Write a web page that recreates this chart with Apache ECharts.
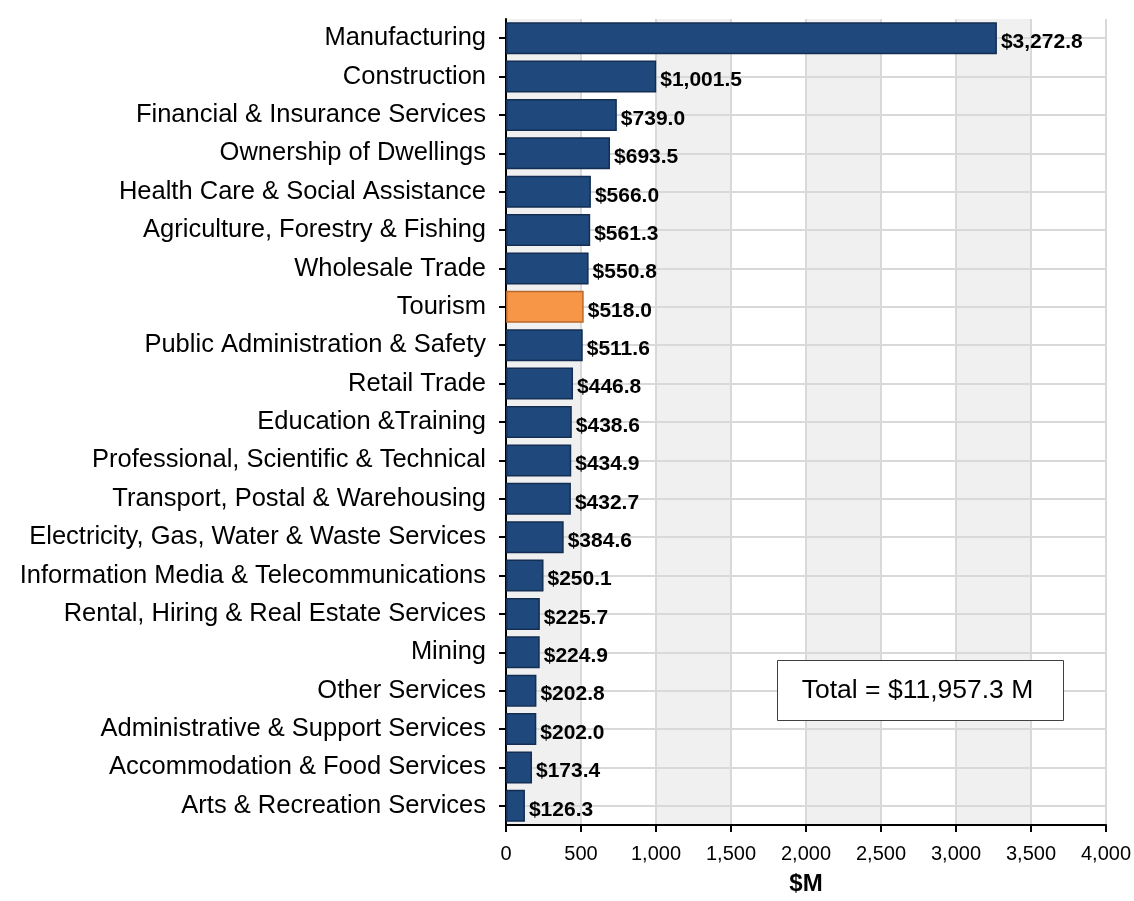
<!DOCTYPE html>
<html>
<head>
<meta charset="utf-8">
<title>Industry output</title>
<script src="https://cdn.jsdelivr.net/npm/echarts@6/dist/echarts.min.js"></script>
<style>
  html, body { margin: 0; padding: 0; background: #fff; }
  #chart { width: 1134px; height: 901px; }
</style>
</head>
<body>
<div id="chart"></div>
<script>
// 行业名称（从上到下）
var categories = [
  'Manufacturing',
  'Construction',
  'Financial & Insurance Services',
  'Ownership of Dwellings',
  'Health Care & Social Assistance',
  'Agriculture, Forestry & Fishing',
  'Wholesale Trade',
  'Tourism',
  'Public Administration & Safety',
  'Retail Trade',
  'Education &Training',
  'Professional, Scientific & Technical',
  'Transport, Postal & Warehousing',
  'Electricity, Gas, Water & Waste Services',
  'Information Media & Telecommunications',
  'Rental, Hiring & Real Estate Services',
  'Mining',
  'Other Services',
  'Administrative & Support Services',
  'Accommodation & Food Services',
  'Arts & Recreation Services'
];
// 数值 $M
var values = [
  3272.8, 1001.5, 739.0, 693.5, 566.0, 561.3, 550.8, 518.0, 511.6, 446.8, 438.6,
  434.9, 432.7, 384.6, 250.1, 225.7, 224.9, 202.8, 202.0, 173.4, 126.3
];
var xTicks = [0, 500, 1000, 1500, 2000, 2500, 3000, 3500, 4000];
var highlight = 'Tourism';
var totalText = 'Total = $11,957.3 M';

var font = "'Liberation Sans', Arial, sans-serif";

function money(v) {
  return '$' + Number(v).toLocaleString('en-US', { minimumFractionDigits: 1, maximumFractionDigits: 1 });
}

var barData = values.map(function (v, i) {
  var isHi = categories[i] === highlight;
  return {
    value: v,
    itemStyle: {
      color: isHi ? '#f79646' : '#1f497d',
      borderColor: isHi ? '#b86a2c' : '#132e52',
      borderWidth: 1.5
    }
  };
});

var myChart = echarts.init(document.getElementById('chart'));
myChart.setOption({
  animation: false,
  textStyle: { fontFamily: font },
  grid: {
    left: 506,
    right: 26,
    top: 19,
    bottom: 68,
    containLabel: false
  },
  xAxis: {
    type: 'value',
    z: 0,
    min: xTicks[0],
    max: xTicks[xTicks.length - 1],
    interval: 500,
    name: '$M',
    nameLocation: 'middle',
    nameGap: 47,
    nameTextStyle: { color: '#000', fontSize: 24, fontWeight: 'bold', fontFamily: font },
    axisLine: { show: true, lineStyle: { color: '#000', width: 2 } },
    axisTick: { show: true, length: 7, lineStyle: { color: '#000', width: 2 } },
    axisLabel: {
      color: '#000',
      fontSize: 20,
      margin: 19,
      fontFamily: font,
      formatter: function (v) { return Number(v).toLocaleString('en-US'); }
    },
    splitLine: { show: true, lineStyle: { color: '#d9d9d9', width: 2 } },
    splitArea: { show: true, areaStyle: { color: ['#f0f0f0', '#ffffff'] } }
  },
  yAxis: {
    type: 'category',
    z: 1,
    inverse: true,
    data: categories,
    axisLine: { show: true, lineStyle: { color: '#000', width: 2 } },
    axisTick: { show: true, alignWithLabel: true, length: 7, lineStyle: { color: '#000', width: 2 } },
    axisLabel: { color: '#000', fontSize: 25.5, margin: 20, fontFamily: font },
    splitLine: { show: true, alignWithLabel: true, lineStyle: { color: '#d9d9d9', width: 2 } }
  },
  series: [{
    type: 'bar',
    z: 3,
    data: barData,
    barWidth: 32,
    label: {
      show: true,
      position: 'right',
      distance: 4,
      offset: [0, 4],
      color: '#000',
      fontSize: 21,
      fontWeight: 'bold',
      fontFamily: font,
      formatter: function (p) { return money(p.value); }
    }
  }],
  graphic: [{
    type: 'group',
    left: 777,
    top: 660,
    z: 100,
    children: [{
      type: 'rect',
      z: 100,
      shape: { x: 0, y: 0, width: 286, height: 60 },
      style: { fill: '#fff', stroke: '#404040', lineWidth: 1 }
    }, {
      type: 'text',
      z: 101,
      x: 140,
      y: 30,
      style: {
        text: totalText,
        fill: '#000',
        fontSize: 26.5,
        fontFamily: font,
        align: 'center',
        verticalAlign: 'middle'
      }
    }]
  }]
});
window.addEventListener('resize', function () {
  myChart.resize();
});
</script>
</body>
</html>
